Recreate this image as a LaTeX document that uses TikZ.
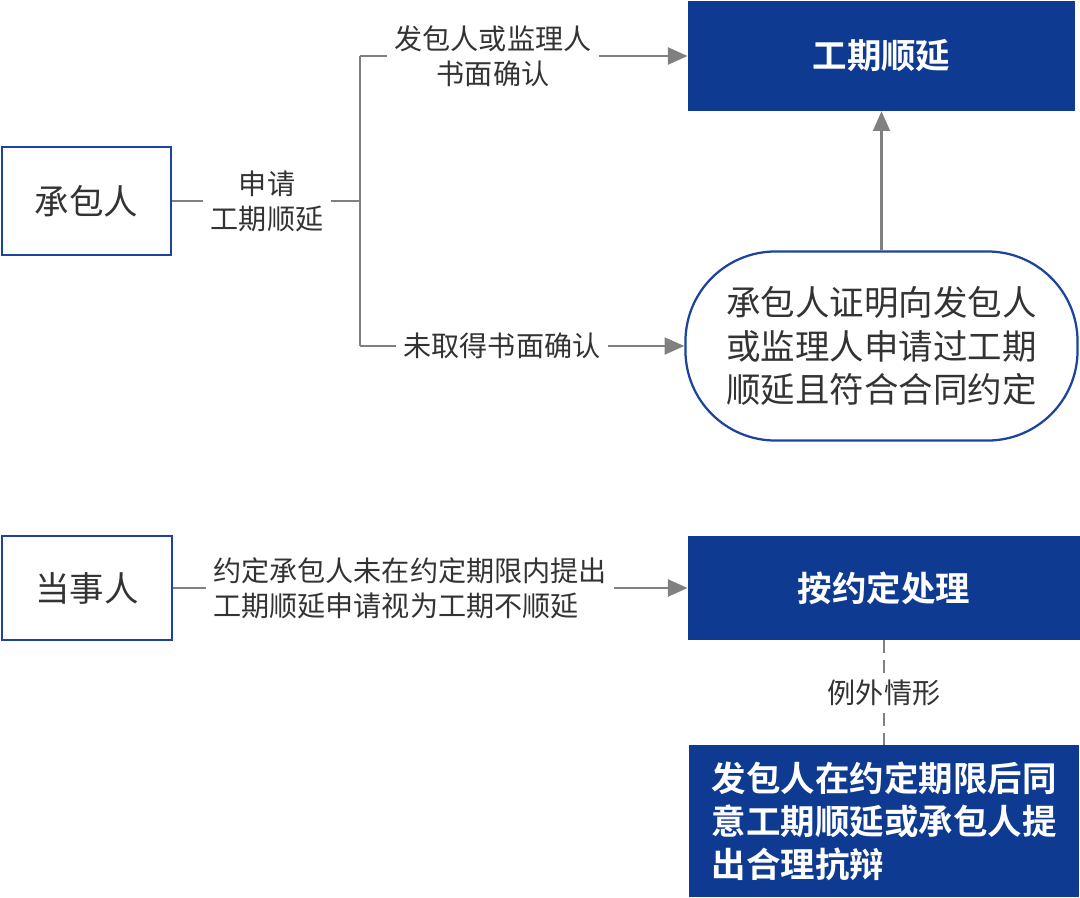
\documentclass[tikz,border=0pt]{standalone}
\usepackage{fontspec}
\setmainfont{Noto Sans CJK SC}[BoldFont={Noto Sans CJK SC Bold}]
\usetikzlibrary{arrows.meta}
\definecolor{navyblue}{RGB}{14,58,145}
\definecolor{edgeblue}{RGB}{28,68,158}
\definecolor{linegray}{RGB}{128,128,128}
\definecolor{textgray}{RGB}{51,51,51}

\begin{document}
\begin{tikzpicture}[x=0.025cm, y=-0.025cm,
    whitebox/.style={draw=edgeblue, line width=1.6pt, fill=white, text=textgray, align=center, font=\fontsize{24.5}{31}\selectfont},
    bluebox/.style={fill=navyblue, text=white, font=\bfseries\fontsize{24.5}{30.5}\selectfont},
    lbl/.style={text=textgray, inner sep=5pt, font=\fontsize{20}{25}\selectfont},
    conn/.style={draw=linegray, line width=1.7pt},
    arr/.style={conn, -{Triangle[length=14pt,width=12pt]}}]
    \useasboundingbox (0,0) rectangle (1080,897);

    % boxes
    \node[whitebox, minimum width=4.225cm, minimum height=2.7cm] (contractor) at (86.5,201) {承包人};
    \node[bluebox, minimum width=9.675cm, minimum height=2.75cm] (extend) at (881.5,56) {工期顺延};
    \node[whitebox, rounded corners=2.25cm, minimum width=9.8cm, minimum height=4.725cm] (proof) at (881.5,346) {承包人证明向发包人\\或监理人申请过工期\\顺延且符合合同约定};
    \node[whitebox, minimum width=4.25cm, minimum height=2.6cm] (party) at (87,588) {当事人};
    \node[bluebox, minimum width=9.8cm, minimum height=2.6cm] (agreed) at (884,588) {按约定处理};
    \node[bluebox, text width=8.6cm, align=left, minimum width=9.75cm, minimum height=3.8cm] (exception) at (884,821) {发包人在约定期限后同\\意工期顺延或承包人提\\出合理抗辩};

    % labels
    \node[lbl, align=center] (apply) at (267,201) {申请\\工期顺延};
    \node[lbl, align=center] (confirm) at (493,56) {发包人或监理人\\书面确认};
    \node[lbl] (noconfirm) at (502,346) {未取得书面确认};
    \node[lbl, align=left] (rule) at (410,588) {约定承包人未在约定期限内提出\\工期顺延申请视为工期不顺延};
    \node[lbl] (except) at (884,693) {例外情形};

    \coordinate (split) at (360,201);
    \coordinate (splitT) at (360,56);
    \coordinate (splitB) at (360,346);

    % connectors
    \draw[conn] (contractor) -- (apply);
    \draw[conn] (apply) -- (split);
    \draw[conn] (splitT) -- (splitB);
    \draw[conn] (splitT) -- (confirm);
    \draw[conn] (splitB) -- (noconfirm);
    \draw[arr] (confirm) -- (extend);
    \draw[arr] (noconfirm) -- (proof);
    \draw[arr] (proof) -- (extend);
    \draw[conn] (party) -- (rule);
    \draw[arr] (rule) -- (agreed);
    \draw[conn, dash pattern=on 9pt off 5pt] (agreed) -- (except);
    \draw[conn, dash pattern=on 9pt off 5pt] (except) -- (exception);
\end{tikzpicture}
\end{document}
